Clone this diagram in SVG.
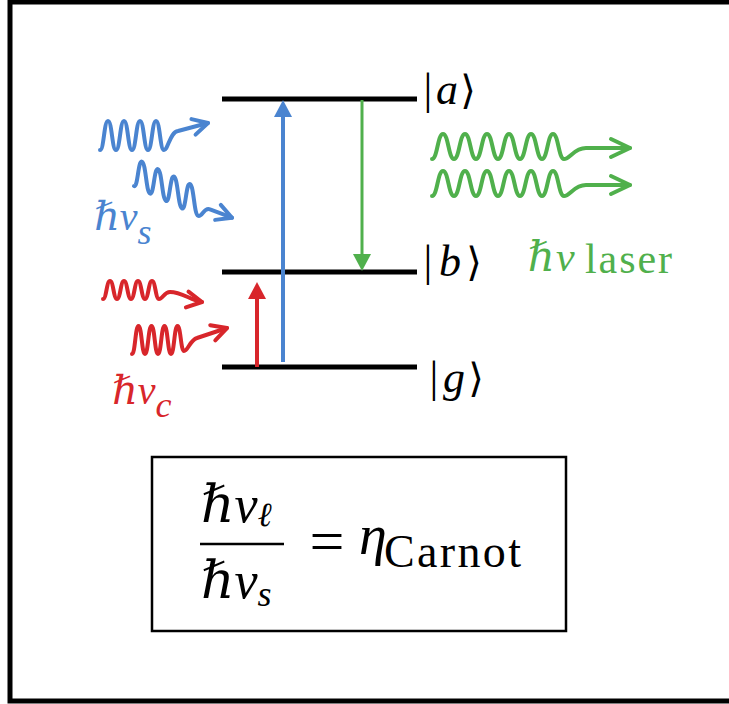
<svg xmlns="http://www.w3.org/2000/svg" width="729" height="704" viewBox="0 0 729 704">
<style>
.lvl{stroke:#000;stroke-width:5;fill:none}
.wave{fill:none;stroke-width:4;stroke-linecap:round;stroke-linejoin:round}
.blue{stroke:#4a84d0}
.red{stroke:#d8262b}
.green{stroke:#50b04c}
.lbl{font-family:"Liberation Serif","DejaVu Serif",serif;font-style:italic}
.ket{font-family:"Liberation Serif","DejaVu Serif",serif;font-size:44px}
.math{font-family:"Liberation Serif","DejaVu Serif",serif;fill:#000}
</style>
<defs>
<marker id="ob" markerUnits="userSpaceOnUse" viewBox="-22 -12 26 24" refX="0" refY="0" markerWidth="26" markerHeight="24" orient="auto" overflow="visible">
<path d="M-15,-8 L0,0 L-15,8" fill="none" stroke="#4a84d0" stroke-width="4" stroke-linecap="round" stroke-linejoin="round"/>
</marker>
<marker id="or" markerUnits="userSpaceOnUse" viewBox="-22 -12 26 24" refX="0" refY="0" markerWidth="26" markerHeight="24" orient="auto" overflow="visible">
<path d="M-15,-8 L0,0 L-15,8" fill="none" stroke="#d8262b" stroke-width="4" stroke-linecap="round" stroke-linejoin="round"/>
</marker>
<marker id="og" markerUnits="userSpaceOnUse" viewBox="-22 -12 26 24" refX="0" refY="0" markerWidth="26" markerHeight="24" orient="auto" overflow="visible">
<path d="M-19,-9 L0,0 L-19,9" fill="none" stroke="#50b04c" stroke-width="4" stroke-linecap="round" stroke-linejoin="round"/>
</marker>
</defs>
<rect x="0" y="0" width="729" height="704" fill="#fff"/>
<rect id="frame" x="10" y="2" width="724" height="699" fill="none" stroke="#000" stroke-width="5"/>

<g id="level-a"><line class="lvl" x1="222" y1="99" x2="417" y2="99"/>
<text class="ket" text-anchor="middle" y="104"><tspan x="428">|</tspan><tspan x="447" font-style="italic">a</tspan><tspan x="468" font-family="DejaVu Sans" font-size="40">⟩</tspan></text></g>
<g id="level-b"><line class="lvl" x1="222" y1="272" x2="417" y2="272"/>
<text class="ket" text-anchor="middle" y="276"><tspan x="428">|</tspan><tspan x="450" font-style="italic">b</tspan><tspan x="474" font-family="DejaVu Sans" font-size="40">⟩</tspan></text></g>
<g id="level-g"><line class="lvl" x1="222" y1="367" x2="417" y2="367" stroke-width="4"/>
<text class="ket" text-anchor="middle" y="392"><tspan x="434">|</tspan><tspan x="454" font-style="italic">g</tspan><tspan x="476" font-family="DejaVu Sans" font-size="40">⟩</tspan></text></g>

<g id="connectors">
<line x1="283" y1="362" x2="283" y2="112" stroke="#4a84d0" stroke-width="4"/>
<polygon points="283,100 274,117 292,117" fill="#4a84d0"/>
<line x1="362" y1="100" x2="362" y2="258" stroke="#50b04c" stroke-width="3"/>
<polygon points="362,271 353,254 371,254" fill="#50b04c"/>
<line x1="257" y1="367" x2="257" y2="294" stroke="#d8262b" stroke-width="4"/>
<polygon points="257,282 248,299 266,299" fill="#d8262b"/>
</g>

<g id="photons-s">
<path class="wave blue" marker-end="url(#ob)" d="M100,150 C104,150 104,121 108,121 S112,150 116,150 S120,121 124,121 S128,150 132,150 S136,121 140,121 S144,150 148,150 S152,121 156,121 S160,150 164,150 C168,150 170,132 178,131 L208,123"/>
<path class="wave blue" marker-end="url(#ob)" d="M134,186 C138,187.9 138,159.9 142,161.7 S146,191.6 150,193.5 S154,167.3 158,169.2 S162,199 166,200.9 S170,174.8 174,176.6 S178,206.5 182,208.4 S186,182.2 190,184.1 S194,214 198,215.8 C202,217.7 204,206.6 210,209.4 L232,217.7"/>
<text class="lbl" fill="#4a84d0" x="94" y="230" font-size="40">ℏν<tspan font-size="36" dy="14">s</tspan></text>
</g>

<g id="photons-c">
<path class="wave red" marker-end="url(#or)" d="M103,299 C106.5,299 106.5,281 110,281 S113.5,299 117,299 S120.5,281 124,281 S127.5,299 131,299 S134.5,281 138,281 S141.5,299 145,299 S148.5,281 152,281 S155.5,299 159,299 C163,299 164,292 170,292 C182,292 190,300 202,302"/>
<path class="wave red" marker-end="url(#or)" d="M132,354 C135.25,354 135.25,326 138.5,326 S141.75,354 145,354 S148.25,326 151.5,326 S154.75,354 158,354 S161.25,326 164.5,326 S167.75,354 171,354 S174.25,326 177.5,326 S180.75,351 184,351 C188,351 190,340 197,338 L227,328"/>
<text class="lbl" fill="#d8262b" x="112" y="404" font-size="40">ℏν<tspan font-size="36" dy="13">c</tspan></text>
</g>

<g id="photons-laser">
<path class="wave green" marker-end="url(#og)" d="M432,159 C437.5,159 437.5,134 443,134 S448.5,159 454,159 S459.5,134 465,134 S470.5,159 476,159 S481.5,134 487,134 S492.5,159 498,159 S503.5,134 509,134 S514.5,159 520,159 S525.5,134 531,134 S536.5,159 542,159 S547.5,134 553,134 S558.5,159 564,159 C570,159 574,148 586,148 L630,148"/>
<path class="wave green" marker-end="url(#og)" transform="translate(0,37)" d="M432,159 C437.5,159 437.5,134 443,134 S448.5,159 454,159 S459.5,134 465,134 S470.5,159 476,159 S481.5,134 487,134 S492.5,159 498,159 S503.5,134 509,134 S514.5,159 520,159 S525.5,134 531,134 S536.5,159 542,159 S547.5,134 553,134 S558.5,159 564,159 C570,159 574,148 586,148 L630,148"/>
<text class="lbl" fill="#50b04c" y="271" font-size="42"><tspan x="528">ℏ</tspan><tspan x="556">ν</tspan><tspan x="585" y="273" font-style="normal" font-size="42" textLength="87">laser</tspan></text>
</g>

<g id="formula">
<rect x="152" y="457" width="414" height="174" fill="none" stroke="#000" stroke-width="2.5"/>
<text class="math" font-style="italic" x="201" y="522" font-size="52">ℏν<tspan font-size="34" dy="4">ℓ</tspan></text>
<line x1="200" y1="544" x2="284" y2="544" stroke="#000" stroke-width="2.5"/>
<text class="math" font-style="italic" x="201" y="598" font-size="52">ℏν<tspan font-size="36" dy="8">s</tspan></text>
<text class="math" x="327" y="562" font-size="62" text-anchor="middle" font-family="DejaVu Serif">=</text>
<text class="math" font-style="italic" x="359" y="554" font-size="56">η</text>
<text class="math" x="384" y="567" font-size="46" textLength="137">Carnot</text>
</g>
</svg>
